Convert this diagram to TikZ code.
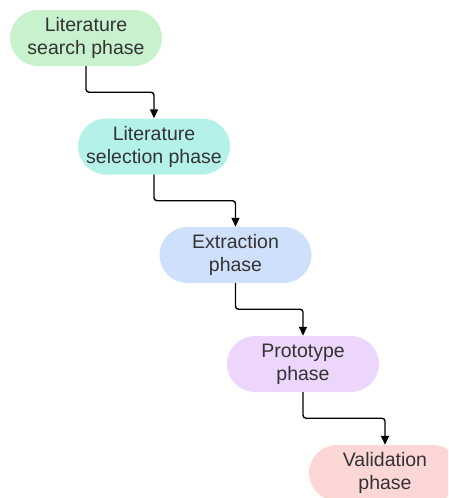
\documentclass[tikz,border=0pt]{standalone}
\usepackage{fontspec}
\setmainfont{Liberation Sans}
\usetikzlibrary{arrows.meta}
\definecolor{cgreen}{HTML}{C7F2CD}
\definecolor{ccyan}{HTML}{B4F2E9}
\definecolor{cblue}{HTML}{CFE0FC}
\definecolor{cpurple}{HTML}{ECD6FC}
\definecolor{cpink}{HTML}{FDD6D6}
\definecolor{ctext}{HTML}{333333}
\tikzset{
  phase/.style={rectangle, rounded corners=28pt, minimum width=152pt, minimum height=56pt,
    inner sep=0pt, align=center, text=ctext, draw=none,
    font=\fontsize{19.5}{23}\selectfont},
  arr/.style={line width=1.4pt, rounded corners=3pt, -{Triangle[length=9pt,width=8pt]}}
}
\begin{document}
\begin{tikzpicture}[x=1pt,y=-1pt]
\useasboundingbox (0,0) rectangle (448,498);
\clip (0,0) rectangle (448,498);
\node[phase, fill=cgreen] (n1) at (86,38) {Literature\\search phase};
\node[phase, fill=ccyan] (n2) at (154,146.5) {Literature\\selection phase};
\node[phase, fill=cblue] (n3) at (235.5,255) {Extraction\\phase};
\node[phase, fill=cpurple] (n4) at (303,364) {Prototype\\phase};
\node[phase, fill=cpink] (n5) at (385,473) {Validation\\phase};
\draw[arr] (n1.south) -- ++(0,26) -| (n2.north);
\draw[arr] (n2.south) -- ++(0,26) -| (n3.north);
\draw[arr] (n3.south) -- ++(0,26) -| (n4.north);
\draw[arr] (n4.south) -- ++(0,26) -| (n5.north);
\end{tikzpicture}
\end{document}
